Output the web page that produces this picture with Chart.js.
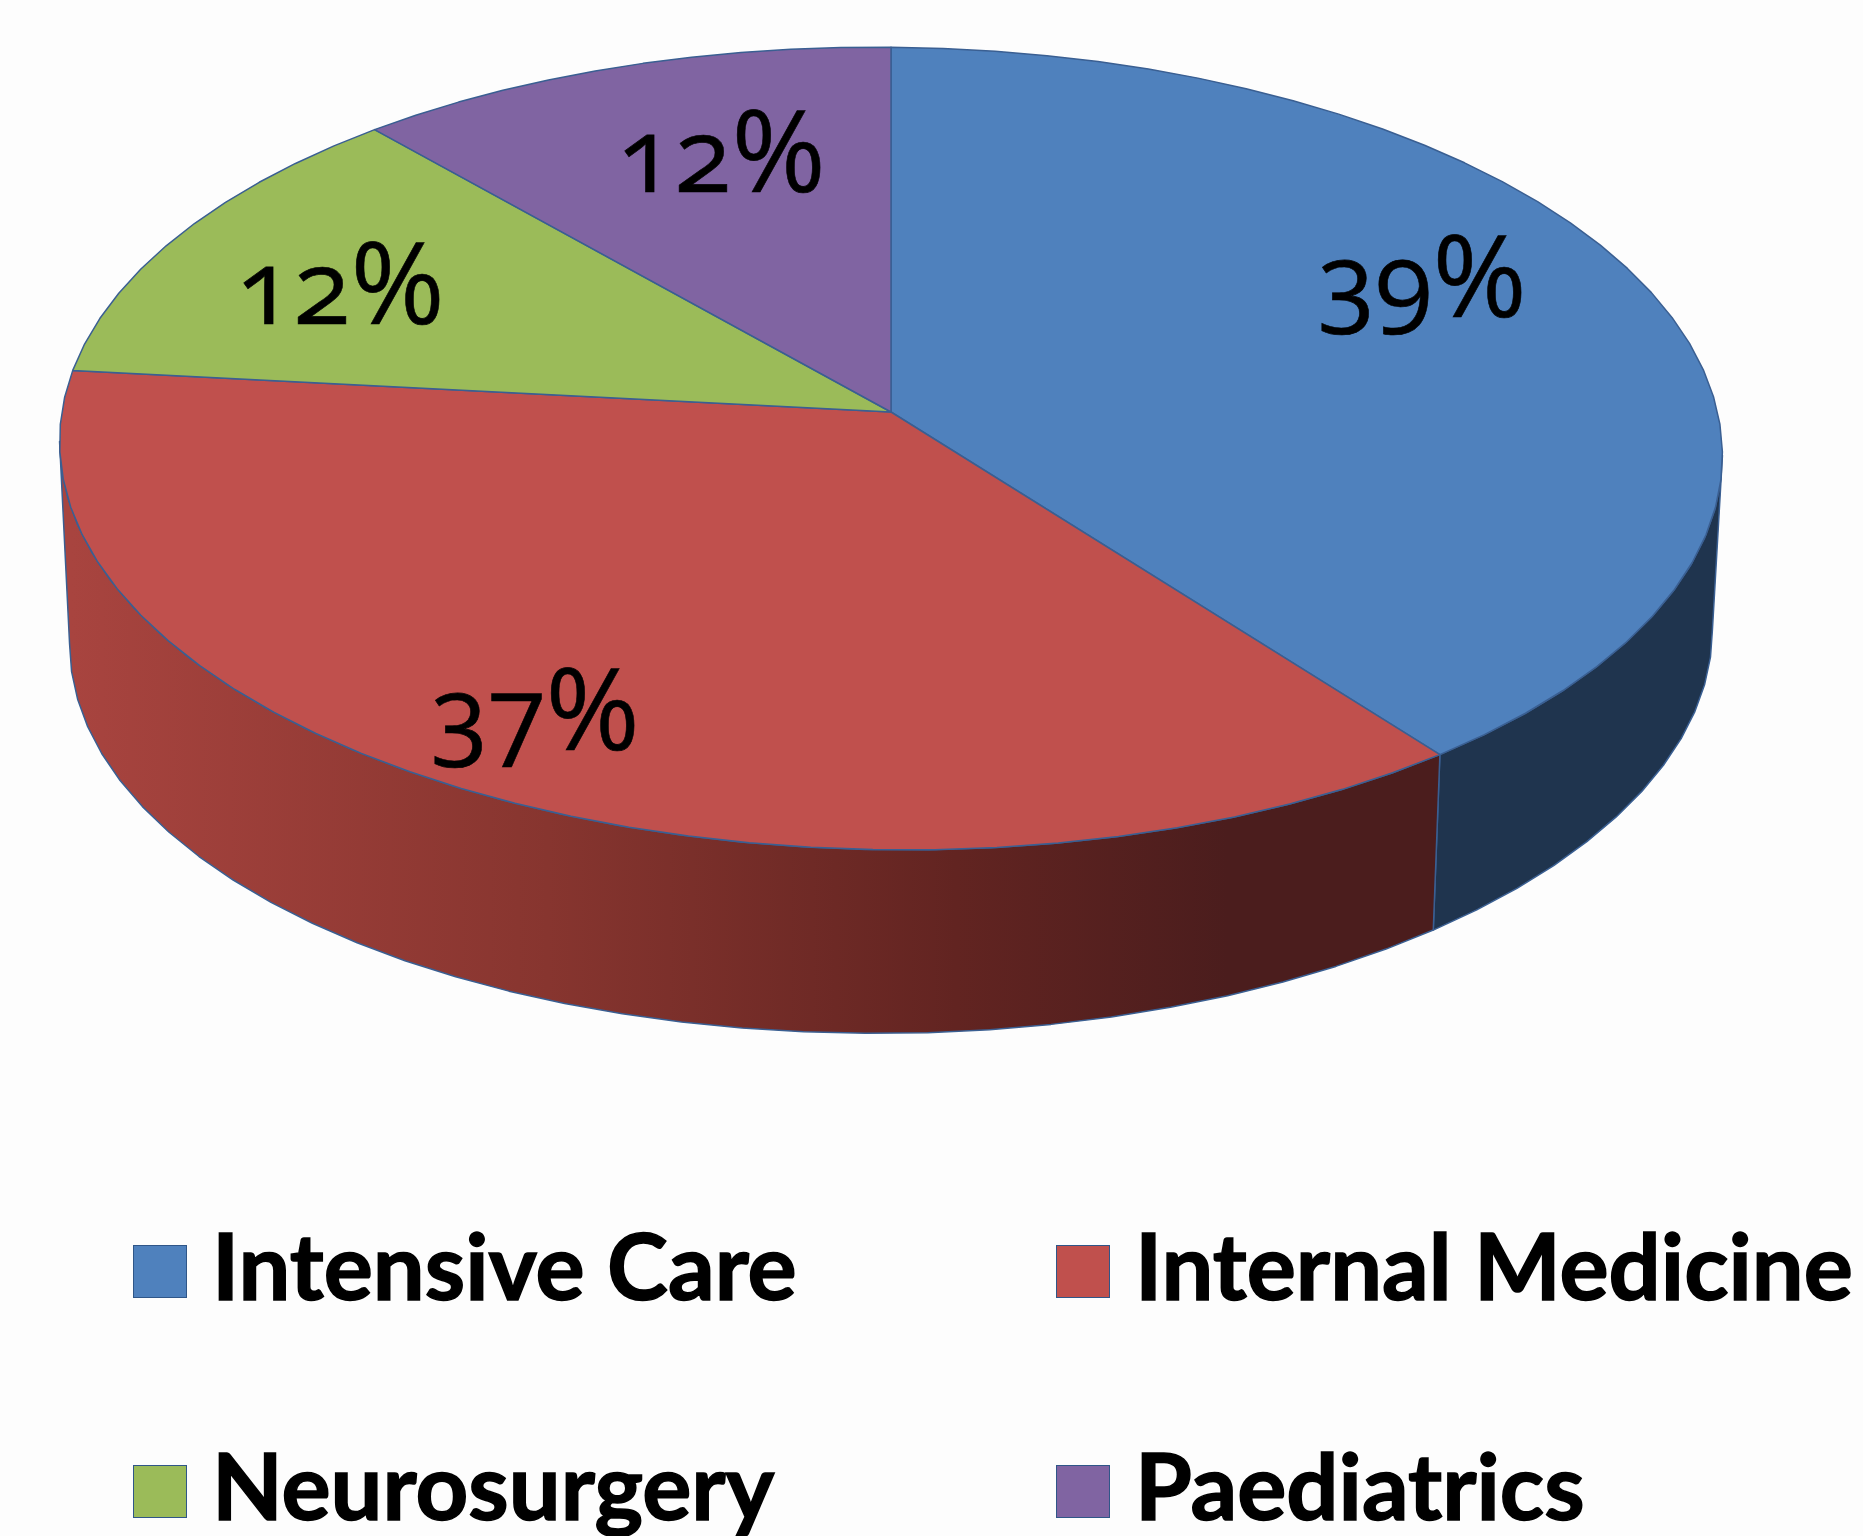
<!DOCTYPE html>
<html>
<head>
<meta charset="utf-8">
<script src="https://cdn.jsdelivr.net/npm/chart.js@4"></script>
<style>
  html, body { margin: 0; padding: 0; background: #fdfdfd; }
  #wrap { position: relative; width: 1863px; height: 1536px; overflow: hidden; }
  canvas { position: absolute; left: 0; top: 0; }
  .pct { position: absolute; line-height: 0; white-space: nowrap; color: #000; font-family: "Open Sans", sans-serif; font-feature-settings: "onum"; font-size: 105px; -webkit-text-stroke: 0.6px #000; }
  .pct span { font-size: 114px; }
  .key { position: absolute; width: 54px; height: 53px; border: 1.5px solid #2f5688; box-sizing: border-box; }
  .name { position: absolute; line-height: 0; white-space: nowrap; color: #000; font: 700 92px Lato, sans-serif; -webkit-text-stroke: 1.5px #000; }
</style>
</head>
<body>
<div id="wrap"><canvas id="pie" width="1863" height="1536"></canvas></div>
<script>
const categories = ["Intensive Care", "Internal Medicine", "Neurosurgery", "Paediatrics"];
const shares = [39.45, 36.95, 12.0, 11.6];
const sliceColors = ["#4f81bd", "#c0504d", "#9bbb59", "#8064a2"];

// perspective of the disc, top face and bottom rim
const topFace = { x: 891, y: 412, a: 828, b: 398, k: 0.091, tilt: 7 };
const bottomRim = { x: 891, y: 601, a: 818, b: 393, k: 0.091, tilt: -7 };
const outline = "#3a5f92";

function project(p, angle) {
  const u = Math.cos(angle), v = Math.sin(angle);
  const w = 1 - p.k * v;
  return [p.x + (p.a * u) / w, p.y + (p.b * v + p.tilt * u) / w];
}

function rim(ctx, p, from, to) {
  const steps = Math.max(2, Math.ceil(Math.abs(to - from) / 0.07));
  for (let i = 0; i <= steps; i++) {
    const pt = project(p, from + ((to - from) * i) / steps);
    ctx.lineTo(pt[0], pt[1]);
  }
}

const disc3d = {
  id: "disc3d",
  beforeDatasetsDraw(chart) {
    const ctx = chart.ctx;
    const arcs = chart.getDatasetMeta(0).data;
    const edge = Math.asin(topFace.k);
    ctx.save();
    ctx.lineJoin = "round";
    ctx.strokeStyle = outline;
    ctx.lineWidth = 1.5;

    // side wall, only the front of the disc shows
    arcs.forEach((arc, i) => {
      const from = Math.max(arc.startAngle, edge);
      const to = Math.min(arc.endAngle, Math.PI - edge);
      if (to <= from) return;
      ctx.beginPath();
      rim(ctx, topFace, from, to);
      rim(ctx, bottomRim, to, from);
      ctx.closePath();
      if (i === 1) {
        const g = ctx.createLinearGradient(72, 0, 1432, 0);
        g.addColorStop(0, "#a8443f");
        g.addColorStop(0.35, "#87352f");
        g.addColorStop(0.65, "#622421");
        g.addColorStop(0.85, "#4b1d1d");
        g.addColorStop(1, "#4b1d1d");
        ctx.fillStyle = g;
      } else {
        ctx.fillStyle = "#1f344e";
      }
      ctx.fill();
      ctx.stroke();
    });

    // top face
    arcs.forEach((arc, i) => {
      ctx.beginPath();
      ctx.moveTo(topFace.x, topFace.y);
      rim(ctx, topFace, arc.startAngle, arc.endAngle);
      ctx.closePath();
      ctx.fillStyle = sliceColors[i];
      ctx.fill();
      ctx.stroke();
    });
    ctx.restore();
    return false;
  },
};

new Chart(document.getElementById("pie"), {
  type: "pie",
  data: {
    labels: categories,
    datasets: [{ data: shares, backgroundColor: sliceColors }],
  },
  options: {
    responsive: false,
    animation: false,
    events: [],
    plugins: { legend: { display: false }, tooltip: { enabled: false } },
  },
  plugins: [disc3d],
});

// data labels and legend are plain text over the canvas
const wrap = document.getElementById("wrap");
const labelSpots = [[1318, 309], [431, 742], [236, 316], [617, 184]];
shares.forEach((s, i) => {
  const el = document.createElement("div");
  el.className = "pct";
  el.style.left = labelSpots[i][0] + "px";
  el.style.top = labelSpots[i][1] - 36 + "px";
  el.innerHTML = Math.round(s) + "<span>%</span>";
  wrap.appendChild(el);
});

const keySpots = [[133, 1245], [1056, 1245], [133, 1465], [1056, 1465]];
categories.forEach((name, i) => {
  const key = document.createElement("div");
  key.className = "key";
  key.style.left = keySpots[i][0] + "px";
  key.style.top = keySpots[i][1] + "px";
  key.style.background = sliceColors[i];
  wrap.appendChild(key);
  const el = document.createElement("div");
  el.className = "name";
  el.style.left = keySpots[i][0] + 79 + "px";
  el.style.top = keySpots[i][1] - 36 + "px";
  el.textContent = name;
  wrap.appendChild(el);
});
</script>
</body>
</html>
